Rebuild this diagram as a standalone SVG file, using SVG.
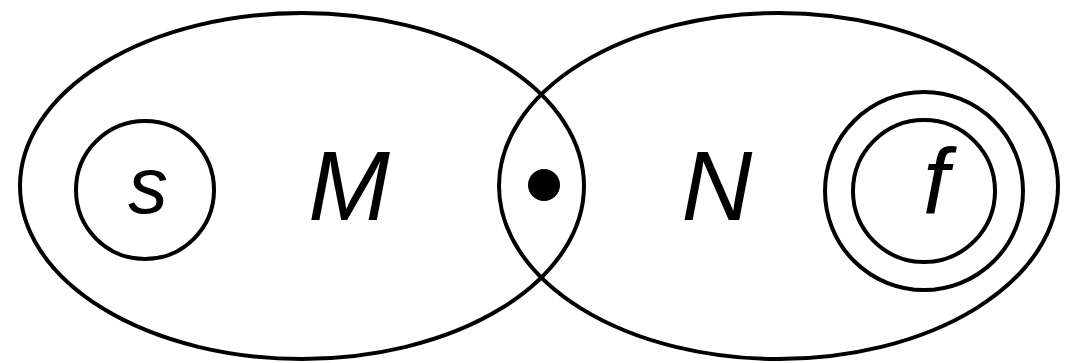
<svg xmlns="http://www.w3.org/2000/svg" width="1067" height="363" viewBox="0 0 1067 363">
<style>
.l{fill:none;stroke:#000;stroke-width:4}
.t{font-family:"Liberation Sans",Arial,sans-serif;font-style:italic;fill:#000;text-anchor:middle}
</style>
<rect width="1067" height="363" fill="#fff"/>
<g id="M"><ellipse class="l" cx="302" cy="186" rx="282" ry="173"/><text class="t" x="349" y="220" font-size="98">M</text></g>
<g id="N"><ellipse class="l" cx="778.5" cy="186" rx="279.5" ry="173"/><text class="t" x="717" y="220" font-size="98">N</text></g>
<g id="s"><circle class="l" cx="145" cy="190" r="69"/><text class="t" x="148" y="213" font-size="79">s</text></g>
<g id="dot"><circle cx="544" cy="185" r="16" fill="#000"/></g>
<g id="f"><circle class="l" cx="924" cy="191" r="99"/><circle class="l" cx="924" cy="191" r="71"/><text class="t" x="936" y="213" font-size="93">f</text></g>
<g id="connectors"/>
</svg>
